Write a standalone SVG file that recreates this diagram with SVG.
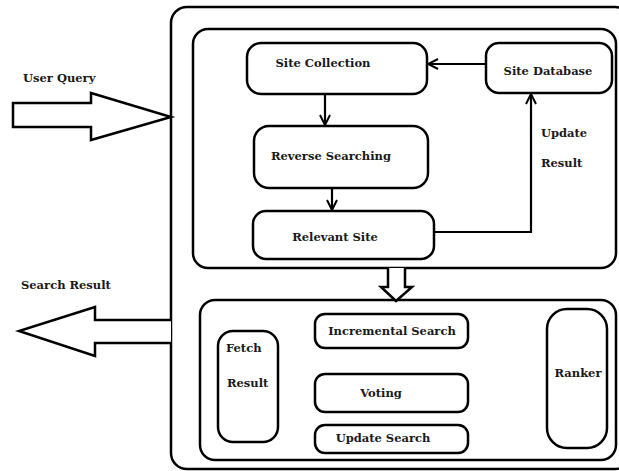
<svg xmlns="http://www.w3.org/2000/svg" width="619" height="471" viewBox="0 0 619 471">
<style>
.box{fill:#fff;stroke:#000;stroke-width:2.5}
.node{fill:#fff;stroke:#000;stroke-width:2.5}
.t{font-family:"DejaVu Serif","Liberation Serif",serif;font-weight:bold;font-size:11.5px;fill:#1a1a1a}
.c{fill:none;stroke:#000;stroke-width:2.2}
.blk{fill:#fff;stroke:#000;stroke-width:2.5;stroke-linejoin:miter}
</style>
<defs>
<marker id="open" viewBox="0 0 12 12" refX="11" refY="6" markerWidth="12" markerHeight="12" markerUnits="userSpaceOnUse" orient="auto">
<path d="M1,1 L11,6 L1,11" fill="none" stroke="#000" stroke-width="2"/>
</marker>
</defs>
<rect width="619" height="471" fill="#fff"/>
<g id="outer"><rect class="box" x="171" y="7" width="460" height="462" rx="16"/></g>
<g id="upper-panel"><rect class="box" x="193" y="29" width="423" height="239" rx="15"/></g>
<g id="lower-panel"><rect class="box" x="200" y="300" width="416" height="160" rx="15"/></g>

<g id="user-query">
<path class="blk" d="M13,103 L91,103 L91,93 L171,117 L91,140 L91,127 L13,127 Z"/>
<text class="t" x="23" y="82">User Query</text>
</g>
<g id="search-result">
<path class="blk" d="M171,320 L95,320 L95,307 L19,331 L95,356 L95,343 L171,343"/>
<text class="t" x="21" y="289">Search Result</text>
</g>

<g id="site-collection"><rect class="node" x="247" y="43" width="180" height="51" rx="14"/><text class="t" x="323" y="67" text-anchor="middle">Site Collection</text></g>
<g id="reverse-searching"><rect class="node" x="254" y="126" width="174" height="62" rx="15"/><text class="t" x="331" y="160" text-anchor="middle">Reverse Searching</text></g>
<g id="relevant-site"><rect class="node" x="253" y="211" width="181" height="48" rx="13"/><text class="t" x="335" y="241" text-anchor="middle">Relevant Site</text></g>
<g id="site-database"><rect class="node" x="486" y="43" width="126" height="50" rx="13"/><text class="t" x="548" y="75" text-anchor="middle">Site Database</text></g>

<g id="fetch-result"><rect class="node" x="218" y="331" width="60" height="111" rx="15"/><text class="t" x="226" y="352">Fetch</text><text class="t" x="227" y="387">Result</text></g>
<g id="incremental-search"><rect class="node" x="315" y="314" width="153" height="34" rx="10"/><text class="t" x="392" y="335" text-anchor="middle">Incremental Search</text></g>
<g id="voting"><rect class="node" x="315" y="374" width="153" height="38" rx="10"/><text class="t" x="381" y="397" text-anchor="middle">Voting</text></g>
<g id="update-search"><rect class="node" x="315" y="425" width="153" height="28" rx="10"/><text class="t" x="383" y="442" text-anchor="middle">Update Search</text></g>
<g id="ranker"><rect class="node" x="547" y="309" width="60" height="139" rx="20"/><text class="t" x="578" y="377" text-anchor="middle">Ranker</text></g>

<g id="connectors">
<line class="c" x1="486" y1="64" x2="428" y2="64" marker-end="url(#open)"/>
<line class="c" x1="325" y1="94" x2="325" y2="125" marker-end="url(#open)"/>
<line class="c" x1="332" y1="188" x2="332" y2="210" marker-end="url(#open)"/>
<polyline class="c" points="434,232 531,232 531,94" marker-end="url(#open)"/>
<path class="blk" d="M388,268 L388,287 L381,287 L396,301 L412,287 L405,287 L405,268"/>
<text class="t" x="541" y="137">Update</text>
<text class="t" x="541" y="167">Result</text>
</g>
</svg>
